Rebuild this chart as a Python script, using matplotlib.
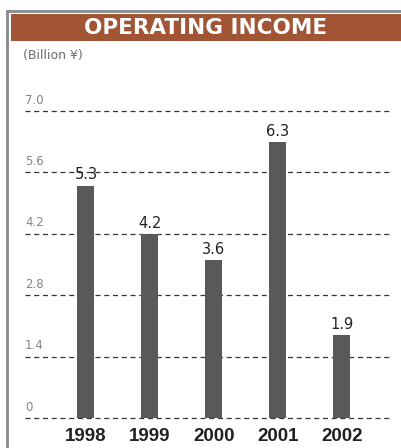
import matplotlib
matplotlib.use("Agg")
import matplotlib.pyplot as plt
from matplotlib.patches import Rectangle
from matplotlib.lines import Line2D

years = ["1998", "1999", "2000", "2001", "2002"]
values = [5.3, 4.2, 3.6, 6.3, 1.9]
value_labels = ["5.3", "4.2", "3.6", "6.3", "1.9"]
yticks = [0, 1.4, 2.8, 4.2, 5.6, 7.0]
ytick_labels = ["0", "1.4", "2.8", "4.2", "5.6", "7.0"]
title = "OPERATING INCOME"
unit = "(Billion ¥)"

W, H = 402, 448
fig = plt.figure(figsize=(W / 100, H / 100), dpi=100)
fig.patch.set_facecolor("white")

def fx(px):
    return px / W

def fy(py):
    return 1 - py / H

# frame lines
fig.add_artist(Line2D([fx(7), fx(7)], [fy(11), fy(448)], color="#8a8a8a", lw=2.0))
fig.add_artist(Line2D([fx(7), fx(402)], [fy(11), fy(11)], color="#8a8a8a", lw=2.0))
# title band
fig.add_artist(Rectangle((fx(11), fy(41)), fx(402) - fx(11), fy(14) - fy(41),
                         facecolor="#A25535", edgecolor="none"))
fig.text(fx(206), fy(27.5), title, color="white", fontsize=15.5, fontweight="heavy",
         ha="center", va="center", family="DejaVu Sans")
fig.text(fx(23), fy(55), unit, color="#6d6d6d", fontsize=9, ha="left", va="center",
         family="DejaVu Sans")

left_px, right_px, top_px, bot_px = 25, 390, 100, 420
ax = fig.add_axes([fx(left_px), fy(bot_px), fx(right_px) - fx(left_px), fy(top_px) - fy(bot_px)])
ppu = 61.4 / 1.4
ax.set_ylim(-(bot_px - 418) / ppu, (418 - top_px) / ppu)
ax.set_xlim(-(86 - left_px) / 64, (right_px - 86) / 64)

x = list(range(len(years)))
ax.bar(x, values, width=17 / 64, color="#58595B", zorder=3)

for t, lab in zip(yticks, ytick_labels):
    ax.axhline(t, color="#333333", lw=0.9, ls=(0, (4, 3)), zorder=1)
    ax.text(0.0, t + 0.1, lab, transform=ax.get_yaxis_transform(), ha="left", va="bottom",
            color="#858585", fontsize=8.5, family="DejaVu Sans")

for xi, v, lab in zip(x, values, value_labels):
    ax.text(xi, v + 0.07, lab, ha="center", va="bottom", fontsize=10.5, color="#222222",
            family="DejaVu Sans")

ax.set_xticks(x)
ax.set_xticklabels(years, fontsize=13.5, fontweight="bold", color="#222222", family="Liberation Sans")
ax.tick_params(axis="x", length=0, pad=6)
ax.set_yticks([])
for s in ax.spines.values():
    s.set_visible(False)
ax.patch.set_alpha(0)

fig.savefig("out.png", dpi=100)
